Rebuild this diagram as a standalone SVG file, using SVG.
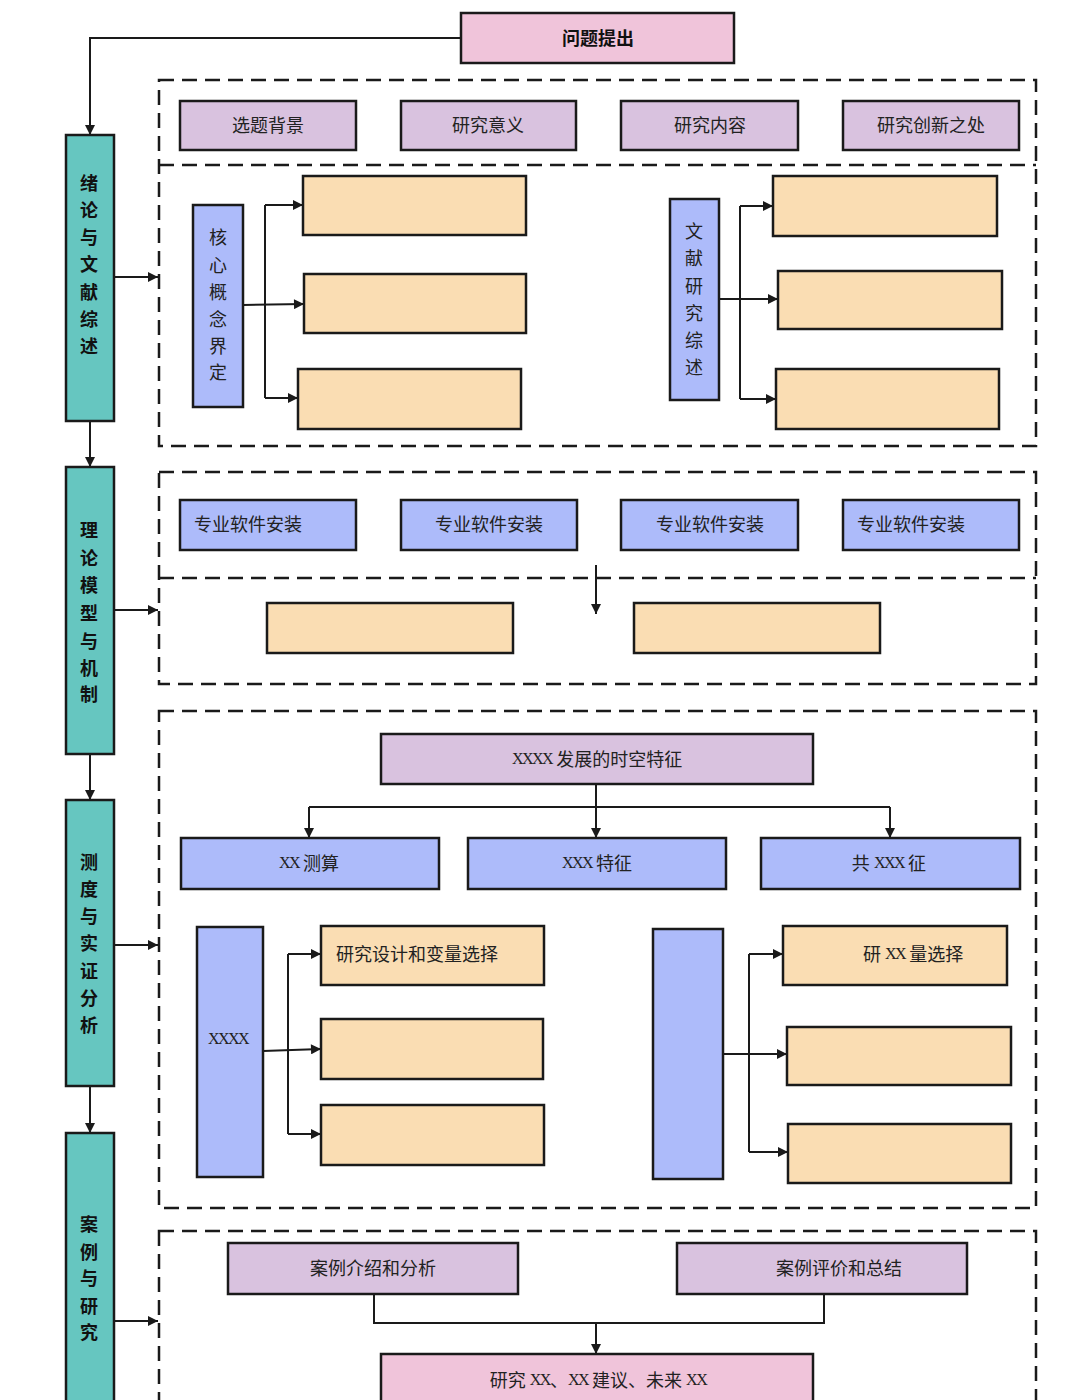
<svg xmlns="http://www.w3.org/2000/svg" width="1080" height="1400" viewBox="0 0 1080 1400">
<defs>
<style>
.box{stroke:#1a1a1a;stroke-width:2.5}
.teal{fill:#66C6C0}
.lav{fill:#D9C2DF}
.blue{fill:#ADBBFA}
.peach{fill:#FADDB3}
.pink{fill:#F0C4DA}
.dash{fill:none;stroke:#1a1a1a;stroke-width:2.5;stroke-dasharray:15 8}
.ln{fill:none;stroke:#1a1a1a;stroke-width:2}
.arr{fill:none;stroke:#1a1a1a;stroke-width:2;marker-end:url(#ah)}
text{font-family:"Noto Sans CJK SC","Noto Sans",sans-serif;font-size:18px;fill:#222;dominant-baseline:central}
.c{text-anchor:middle}
.b{font-weight:bold;fill:#111}
.x{font-family:"Liberation Serif",serif;font-size:16px;letter-spacing:-1.5px}
</style>
<marker id="ah" viewBox="0 0 10 10" refX="10" refY="5" markerWidth="11" markerHeight="10" orient="auto" markerUnits="userSpaceOnUse">
<path d="M0,0 L10,5 L0,10 z" fill="#1a1a1a"/>
</marker>
</defs>
<rect width="1080" height="1400" fill="#ffffff"/>

<g id="frames">
<rect class="dash" x="159" y="80" width="877" height="366"/>
<line class="dash" x1="159" y1="165" x2="1036" y2="165"/>
<rect class="dash" x="159" y="472" width="877" height="212"/>
<line class="dash" x1="159" y1="578" x2="1036" y2="578"/>
<rect class="dash" x="159" y="711" width="877" height="497"/>
<rect class="dash" x="159" y="1231" width="877" height="200"/>
</g>

<g id="connectors">
<polyline class="arr" points="461,38 90,38 90,135"/>
<line class="arr" x1="90" y1="421" x2="90" y2="467"/>
<line class="arr" x1="90" y1="754" x2="90" y2="800"/>
<line class="arr" x1="90" y1="1086" x2="90" y2="1133"/>
<line class="arr" x1="114" y1="277" x2="158" y2="277"/>
<line class="arr" x1="114" y1="610" x2="158" y2="610"/>
<line class="arr" x1="114" y1="945" x2="158" y2="945"/>
<line class="arr" x1="114" y1="1321" x2="158" y2="1321"/>
<line class="ln" x1="265" y1="205" x2="265" y2="398"/>
<line class="arr" x1="265" y1="205" x2="303" y2="205"/>
<line class="arr" x1="243" y1="305" x2="304" y2="304"/>
<line class="arr" x1="265" y1="398" x2="298" y2="398"/>
<line class="ln" x1="740" y1="206" x2="740" y2="399"/>
<line class="arr" x1="740" y1="206" x2="773" y2="206"/>
<line class="arr" x1="719" y1="299" x2="778" y2="299"/>
<line class="arr" x1="740" y1="399" x2="776" y2="399"/>
<line class="arr" x1="596" y1="565" x2="596" y2="614"/>
<line class="ln" x1="596" y1="784" x2="596" y2="807"/>
<line class="ln" x1="309" y1="807" x2="890" y2="807"/>
<line class="arr" x1="309" y1="807" x2="309" y2="838"/>
<line class="arr" x1="596" y1="807" x2="596" y2="838"/>
<line class="arr" x1="890" y1="807" x2="890" y2="838"/>
<line class="ln" x1="288" y1="954" x2="288" y2="1134"/>
<line class="arr" x1="288" y1="954" x2="321" y2="954"/>
<line class="arr" x1="263" y1="1051" x2="321" y2="1049"/>
<line class="arr" x1="288" y1="1134" x2="321" y2="1134"/>
<line class="ln" x1="749" y1="954" x2="749" y2="1152"/>
<line class="arr" x1="749" y1="954" x2="783" y2="954"/>
<line class="arr" x1="723" y1="1054" x2="787" y2="1054"/>
<line class="arr" x1="749" y1="1152" x2="788" y2="1152"/>
<polyline class="ln" points="374,1294 374,1323 824,1323 824,1294"/>
<line class="arr" x1="596" y1="1323" x2="596" y2="1354"/>
</g>

<g id="n-problem"><rect class="box pink" x="461" y="13" width="273" height="50"/><text class="c b" x="598" y="37">问题提出</text></g>

<g id="n-teal1"><rect class="box teal" x="66" y="135" width="48" height="286"/>
<text class="c b"><tspan x="89" y="182">绪</tspan><tspan x="89" y="209">论</tspan><tspan x="89" y="236">与</tspan><tspan x="89" y="263">文</tspan><tspan x="89" y="291">献</tspan><tspan x="89" y="318">综</tspan><tspan x="89" y="345">述</tspan></text></g>
<g id="n-teal2"><rect class="box teal" x="66" y="467" width="48" height="287"/>
<text class="c b"><tspan x="89" y="529">理</tspan><tspan x="89" y="557">论</tspan><tspan x="89" y="584">模</tspan><tspan x="89" y="612">型</tspan><tspan x="89" y="640">与</tspan><tspan x="89" y="667">机</tspan><tspan x="89" y="693">制</tspan></text></g>
<g id="n-teal3"><rect class="box teal" x="66" y="800" width="48" height="286"/>
<text class="c b"><tspan x="89" y="861">测</tspan><tspan x="89" y="888">度</tspan><tspan x="89" y="915">与</tspan><tspan x="89" y="942">实</tspan><tspan x="89" y="970">证</tspan><tspan x="89" y="997">分</tspan><tspan x="89" y="1024">析</tspan></text></g>
<g id="n-teal4"><rect class="box teal" x="66" y="1133" width="48" height="290"/>
<text class="c b"><tspan x="89" y="1223">案</tspan><tspan x="89" y="1251">例</tspan><tspan x="89" y="1277">与</tspan><tspan x="89" y="1305">研</tspan><tspan x="89" y="1331">究</tspan></text></g>

<g id="n-bg"><rect class="box lav" x="180" y="101" width="176" height="49"/><text class="c" x="268" y="124">选题背景</text></g>
<g id="n-sig"><rect class="box lav" x="401" y="101" width="175" height="49"/><text class="c" x="488" y="124">研究意义</text></g>
<g id="n-content"><rect class="box lav" x="621" y="101" width="177" height="49"/><text class="c" x="710" y="124">研究内容</text></g>
<g id="n-innov"><rect class="box lav" x="843" y="101" width="176" height="49"/><text class="c" x="931" y="124">研究创新之处</text></g>

<g id="n-core"><rect class="box blue" x="193" y="205" width="50" height="202"/>
<text class="c"><tspan x="218" y="236">核</tspan><tspan x="218" y="264">心</tspan><tspan x="218" y="291">概</tspan><tspan x="218" y="318">念</tspan><tspan x="218" y="345">界</tspan><tspan x="218" y="371">定</tspan></text></g>
<g id="n-o1"><rect class="box peach" x="303" y="176" width="223" height="59"/></g>
<g id="n-o2"><rect class="box peach" x="304" y="274" width="222" height="59"/></g>
<g id="n-o3"><rect class="box peach" x="298" y="369" width="223" height="60"/></g>

<g id="n-lit"><rect class="box blue" x="670" y="199" width="49" height="201"/>
<text class="c"><tspan x="694" y="230">文</tspan><tspan x="694" y="257">献</tspan><tspan x="694" y="285">研</tspan><tspan x="694" y="312">究</tspan><tspan x="694" y="339">综</tspan><tspan x="694" y="366">述</tspan></text></g>
<g id="n-o4"><rect class="box peach" x="773" y="176" width="224" height="60"/></g>
<g id="n-o5"><rect class="box peach" x="778" y="271" width="224" height="58"/></g>
<g id="n-o6"><rect class="box peach" x="776" y="369" width="223" height="60"/></g>

<g id="n-sw1"><rect class="box blue" x="180" y="500" width="176" height="50"/><text x="194" y="523">专业软件安装</text></g>
<g id="n-sw2"><rect class="box blue" x="401" y="500" width="176" height="50"/><text class="c" x="489" y="523">专业软件安装</text></g>
<g id="n-sw3"><rect class="box blue" x="621" y="500" width="177" height="50"/><text class="c" x="710" y="523">专业软件安装</text></g>
<g id="n-sw4"><rect class="box blue" x="843" y="500" width="176" height="50"/><text x="857" y="523">专业软件安装</text></g>
<g id="n-o7"><rect class="box peach" x="267" y="603" width="246" height="50"/></g>
<g id="n-o8"><rect class="box peach" x="634" y="603" width="246" height="50"/></g>

<g id="n-st"><rect class="box lav" x="381" y="734" width="432" height="50"/><text class="c" x="597" y="758"><tspan class="x">XXXX</tspan> 发展的时空特征</text></g>
<g id="n-calc"><rect class="box blue" x="181" y="838" width="258" height="51"/><text class="c" x="309" y="862"><tspan class="x">XX</tspan> 测算</text></g>
<g id="n-feat"><rect class="box blue" x="468" y="838" width="258" height="51"/><text class="c" x="597" y="862"><tspan class="x">XXX</tspan> 特征</text></g>
<g id="n-co"><rect class="box blue" x="761" y="838" width="259" height="51"/><text class="c" x="889" y="862">共 <tspan class="x">XXX</tspan> 征</text></g>

<g id="n-xxxx"><rect class="box blue" x="197" y="927" width="66" height="250"/><text class="c" x="228" y="1038"><tspan class="x">XXXX</tspan></text></g>
<g id="n-o9"><rect class="box peach" x="321" y="926" width="223" height="59"/><text x="336" y="953">研究设计和变量选择</text></g>
<g id="n-o10"><rect class="box peach" x="321" y="1019" width="222" height="60"/></g>
<g id="n-o11"><rect class="box peach" x="321" y="1105" width="223" height="60"/></g>

<g id="n-blue2"><rect class="box blue" x="653" y="929" width="70" height="250"/></g>
<g id="n-o12"><rect class="box peach" x="783" y="926" width="224" height="59"/><text x="863" y="953">研 <tspan class="x">XX</tspan> 量选择</text></g>
<g id="n-o13"><rect class="box peach" x="787" y="1027" width="224" height="58"/></g>
<g id="n-o14"><rect class="box peach" x="788" y="1124" width="223" height="59"/></g>

<g id="n-case1"><rect class="box lav" x="228" y="1243" width="290" height="51"/><text class="c" x="373" y="1267">案例介绍和分析</text></g>
<g id="n-case2"><rect class="box lav" x="677" y="1243" width="290" height="51"/><text x="776" y="1267">案例评价和总结</text></g>
<g id="n-final"><rect class="box pink" x="381" y="1354" width="432" height="70"/><text class="c" x="598" y="1379">研究 <tspan class="x">XX</tspan>、<tspan class="x">XX</tspan> 建议、未来 <tspan class="x">XX</tspan></text></g>
</svg>
